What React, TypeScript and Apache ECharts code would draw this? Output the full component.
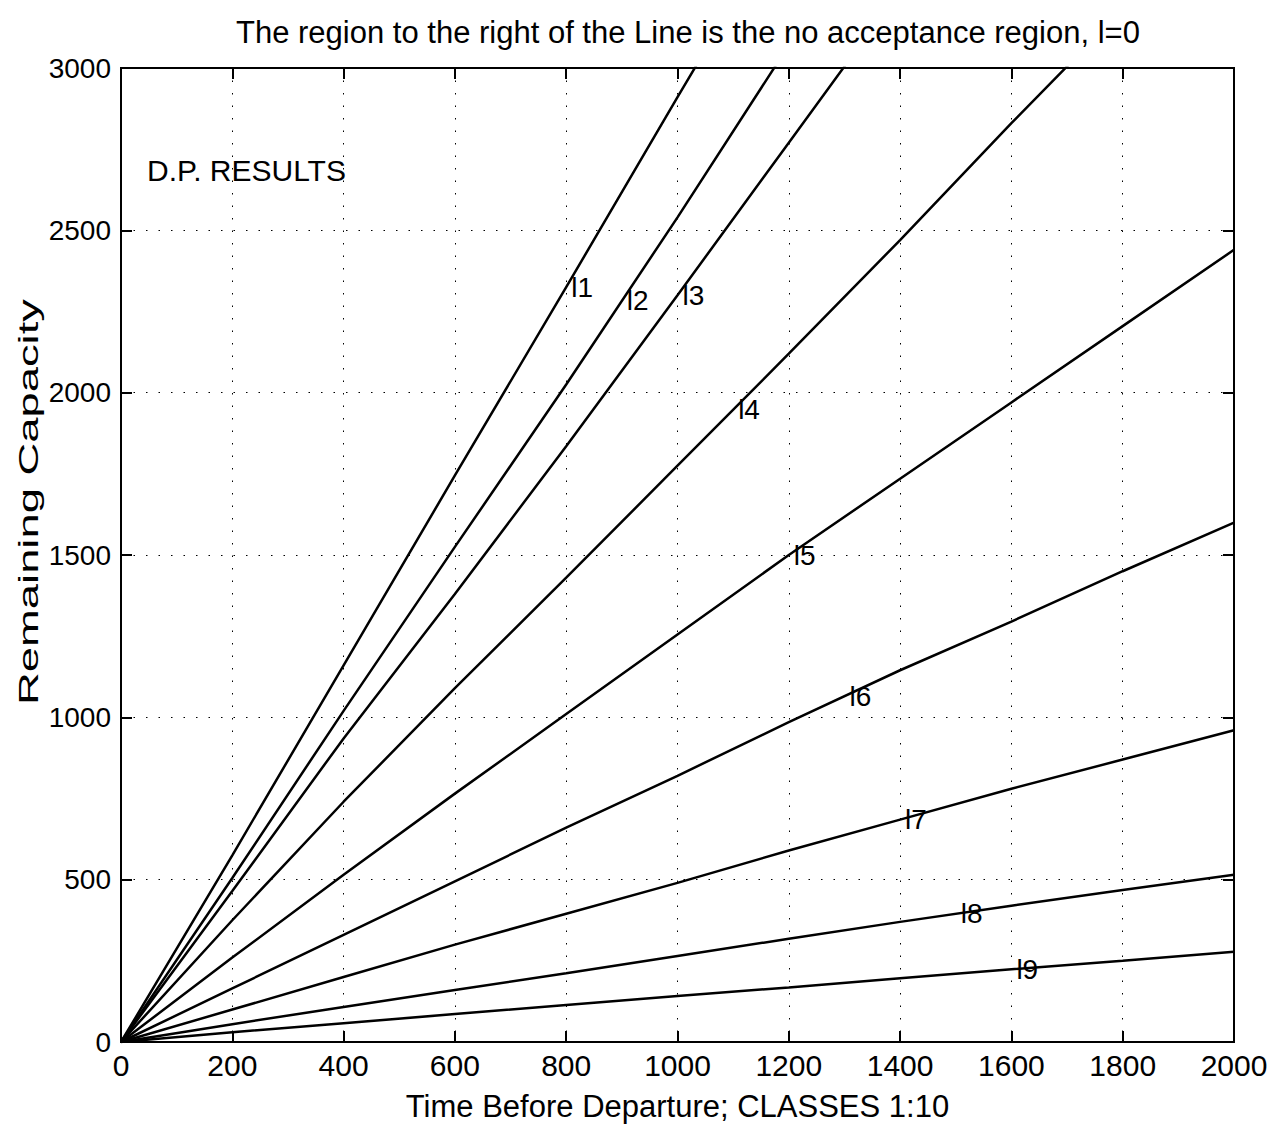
import React, { useEffect, useRef } from "react";
import * as echarts from "echarts";

const xs = [0, 200, 400, 600, 800, 1000, 1200, 1400, 1600, 1800, 2000];

const l1 = [0, 575, 1160, 1745, 2325, 2910, 3490];
const l2 = [0, 505, 1020, 1525, 2025, 2540, 3070];
const l3 = [0, 465, 935, 1380, 1835, 2300, 2770, 3240];
const l4 = [0, 375, 740, 1090, 1430, 1775, 2120, 2470, 2830, 3180];
const l5 = [0, 260, 515, 765, 1010, 1255, 1500, 1735, 1970, 2205, 2440];
const l6 = [0, 165, 330, 495, 660, 820, 985, 1145, 1295, 1450, 1600];
const l7 = [0, 100, 200, 300, 395, 490, 590, 685, 780, 870, 960];
const l8 = [0, 55, 108, 160, 212, 265, 318, 370, 420, 468, 515];
const l9 = [0, 30, 58, 86, 114, 142, 168, 196, 224, 250, 278];

const lines = [l1, l2, l3, l4, l5, l6, l7, l8, l9];
const lineNames = ["l1", "l2", "l3", "l4", "l5", "l6", "l7", "l8", "l9"];
const labelXs = [800, 900, 1000, 1100, 1200, 1300, 1400, 1500, 1600];

const titleText = "The region to the right of the Line is the no acceptance region, l=0";
const xName = "Time Before Departure; CLASSES 1:10";
const yName = "Remaining Capacity";
const noteText = "D.P. RESULTS";

function interp(arr: number[], x: number): number {
  for (let i = 0; i < arr.length - 1; i++) {
    if (x >= xs[i] && x <= xs[i + 1]) {
      const t = (x - xs[i]) / (xs[i + 1] - xs[i]);
      return arr[i] + t * (arr[i + 1] - arr[i]);
    }
  }
  return arr[arr.length - 1];
}

const FONT = "'Liberation Sans', Arial, Helvetica, sans-serif";

// div at page (8,8), size 1268x1118
const GRID = { left: 113, right: 42, top: 60, bottom: 84 };

export default function App() {
  const ref = useRef<HTMLDivElement>(null);
  useEffect(() => {
    if (!ref.current) return;
    const chart = echarts.init(ref.current, null, { renderer: "svg" });
    const gridLine = { show: true, lineStyle: { color: "#000", width: 1, type: [1.5, 11] as any } };
    const tick = { show: true, inside: true, length: 11, lineStyle: { color: "#000", width: 2 } };
    const axisLine = { show: true, onZero: false, lineStyle: { color: "#000", width: 2 } };
    const lineSeries = lines.map((arr, k) => ({
      type: "line",
      name: lineNames[k],
      data: arr.map((v, i) => [xs[i], v]),
      showSymbol: false,
      symbol: "none",
      clip: true,
      lineStyle: { color: "#000", width: 2.5 },
      xAxisIndex: 0,
      yAxisIndex: 0,
      z: 3,
    }));
    const labelData = lines.map((arr, k) => [labelXs[k], interp(arr, labelXs[k]), lineNames[k]]);
    const option: any = {
      animation: false,
      backgroundColor: "#fff",
      textStyle: { fontFamily: FONT },
      title: [
        {
          text: titleText,
          left: 223,
          top: 4,
          textStyle: { fontFamily: FONT, fontSize: 31, fontWeight: "normal", color: "#000" },
        },
        {
          text: noteText,
          left: 134,
          top: 142,
          textStyle: { fontFamily: FONT, fontSize: 30, fontWeight: "normal", color: "#000" },
        },
      ],
      graphic: [
        {
          type: "text",
          x: 20,
          y: 494,
          rotation: Math.PI / 2,
          scaleX: 1.62,
          style: {
            text: yName,
            font: "28px " + FONT,
            fill: "#000",
            align: "center",
            verticalAlign: "middle",
          },
        },
      ],
      grid: {
        ...GRID,
        containLabel: false,
        outerBoundsMode: "none",
        show: true,
        borderColor: "#000",
        borderWidth: 2,
        backgroundColor: "transparent",
      },
      xAxis: [
        {
          type: "value",
          min: 0,
          max: 2000,
          interval: 200,
          name: xName,
          nameLocation: "middle",
          nameGap: 49,
          nameTextStyle: { fontFamily: FONT, fontSize: 31, color: "#000" },
          axisLine,
          axisTick: tick,
          axisLabel: { fontFamily: FONT, fontSize: 30, color: "#000", margin: 8, formatter: (v: number) => String(v) },
          splitLine: gridLine,
        },
        {
          type: "value",
          position: "top",
          min: 0,
          max: 2000,
          interval: 200,
          axisLine,
          axisTick: tick,
          axisLabel: { show: false },
          splitLine: { show: false },
        },
      ],
      yAxis: [
        {
          type: "value",
          min: 0,
          max: 3000,
          interval: 500,
          axisLine,
          axisTick: tick,
          axisLabel: { fontFamily: FONT, fontSize: 28, color: "#000", margin: 10, formatter: (v: number) => String(v) },
          splitLine: gridLine,
        },
        {
          type: "value",
          position: "right",
          min: 0,
          max: 3000,
          interval: 500,
          axisLine,
          axisTick: tick,
          axisLabel: { show: false },
          splitLine: { show: false },
        },
      ],
      series: [
        ...lineSeries,
        {
          type: "scatter",
          data: labelData,
          symbolSize: 0,
          xAxisIndex: 0,
          yAxisIndex: 0,
          z: 5,
          itemStyle: { opacity: 1, color: "#000" },
          label: {
            show: true,
            position: "right",
            distance: 0,
            offset: [5, 0],
            formatter: (p: any) => p.value[2],
            fontFamily: FONT,
            fontSize: 28,
            color: "#000",
            opacity: 1,
            textBorderWidth: 0,
          },
        },
      ],
    };
    chart.setOption(option);
    return () => chart.dispose();
  }, []);
  return <div ref={ref} style={{ width: 1268, height: 1118 }} />;
}
